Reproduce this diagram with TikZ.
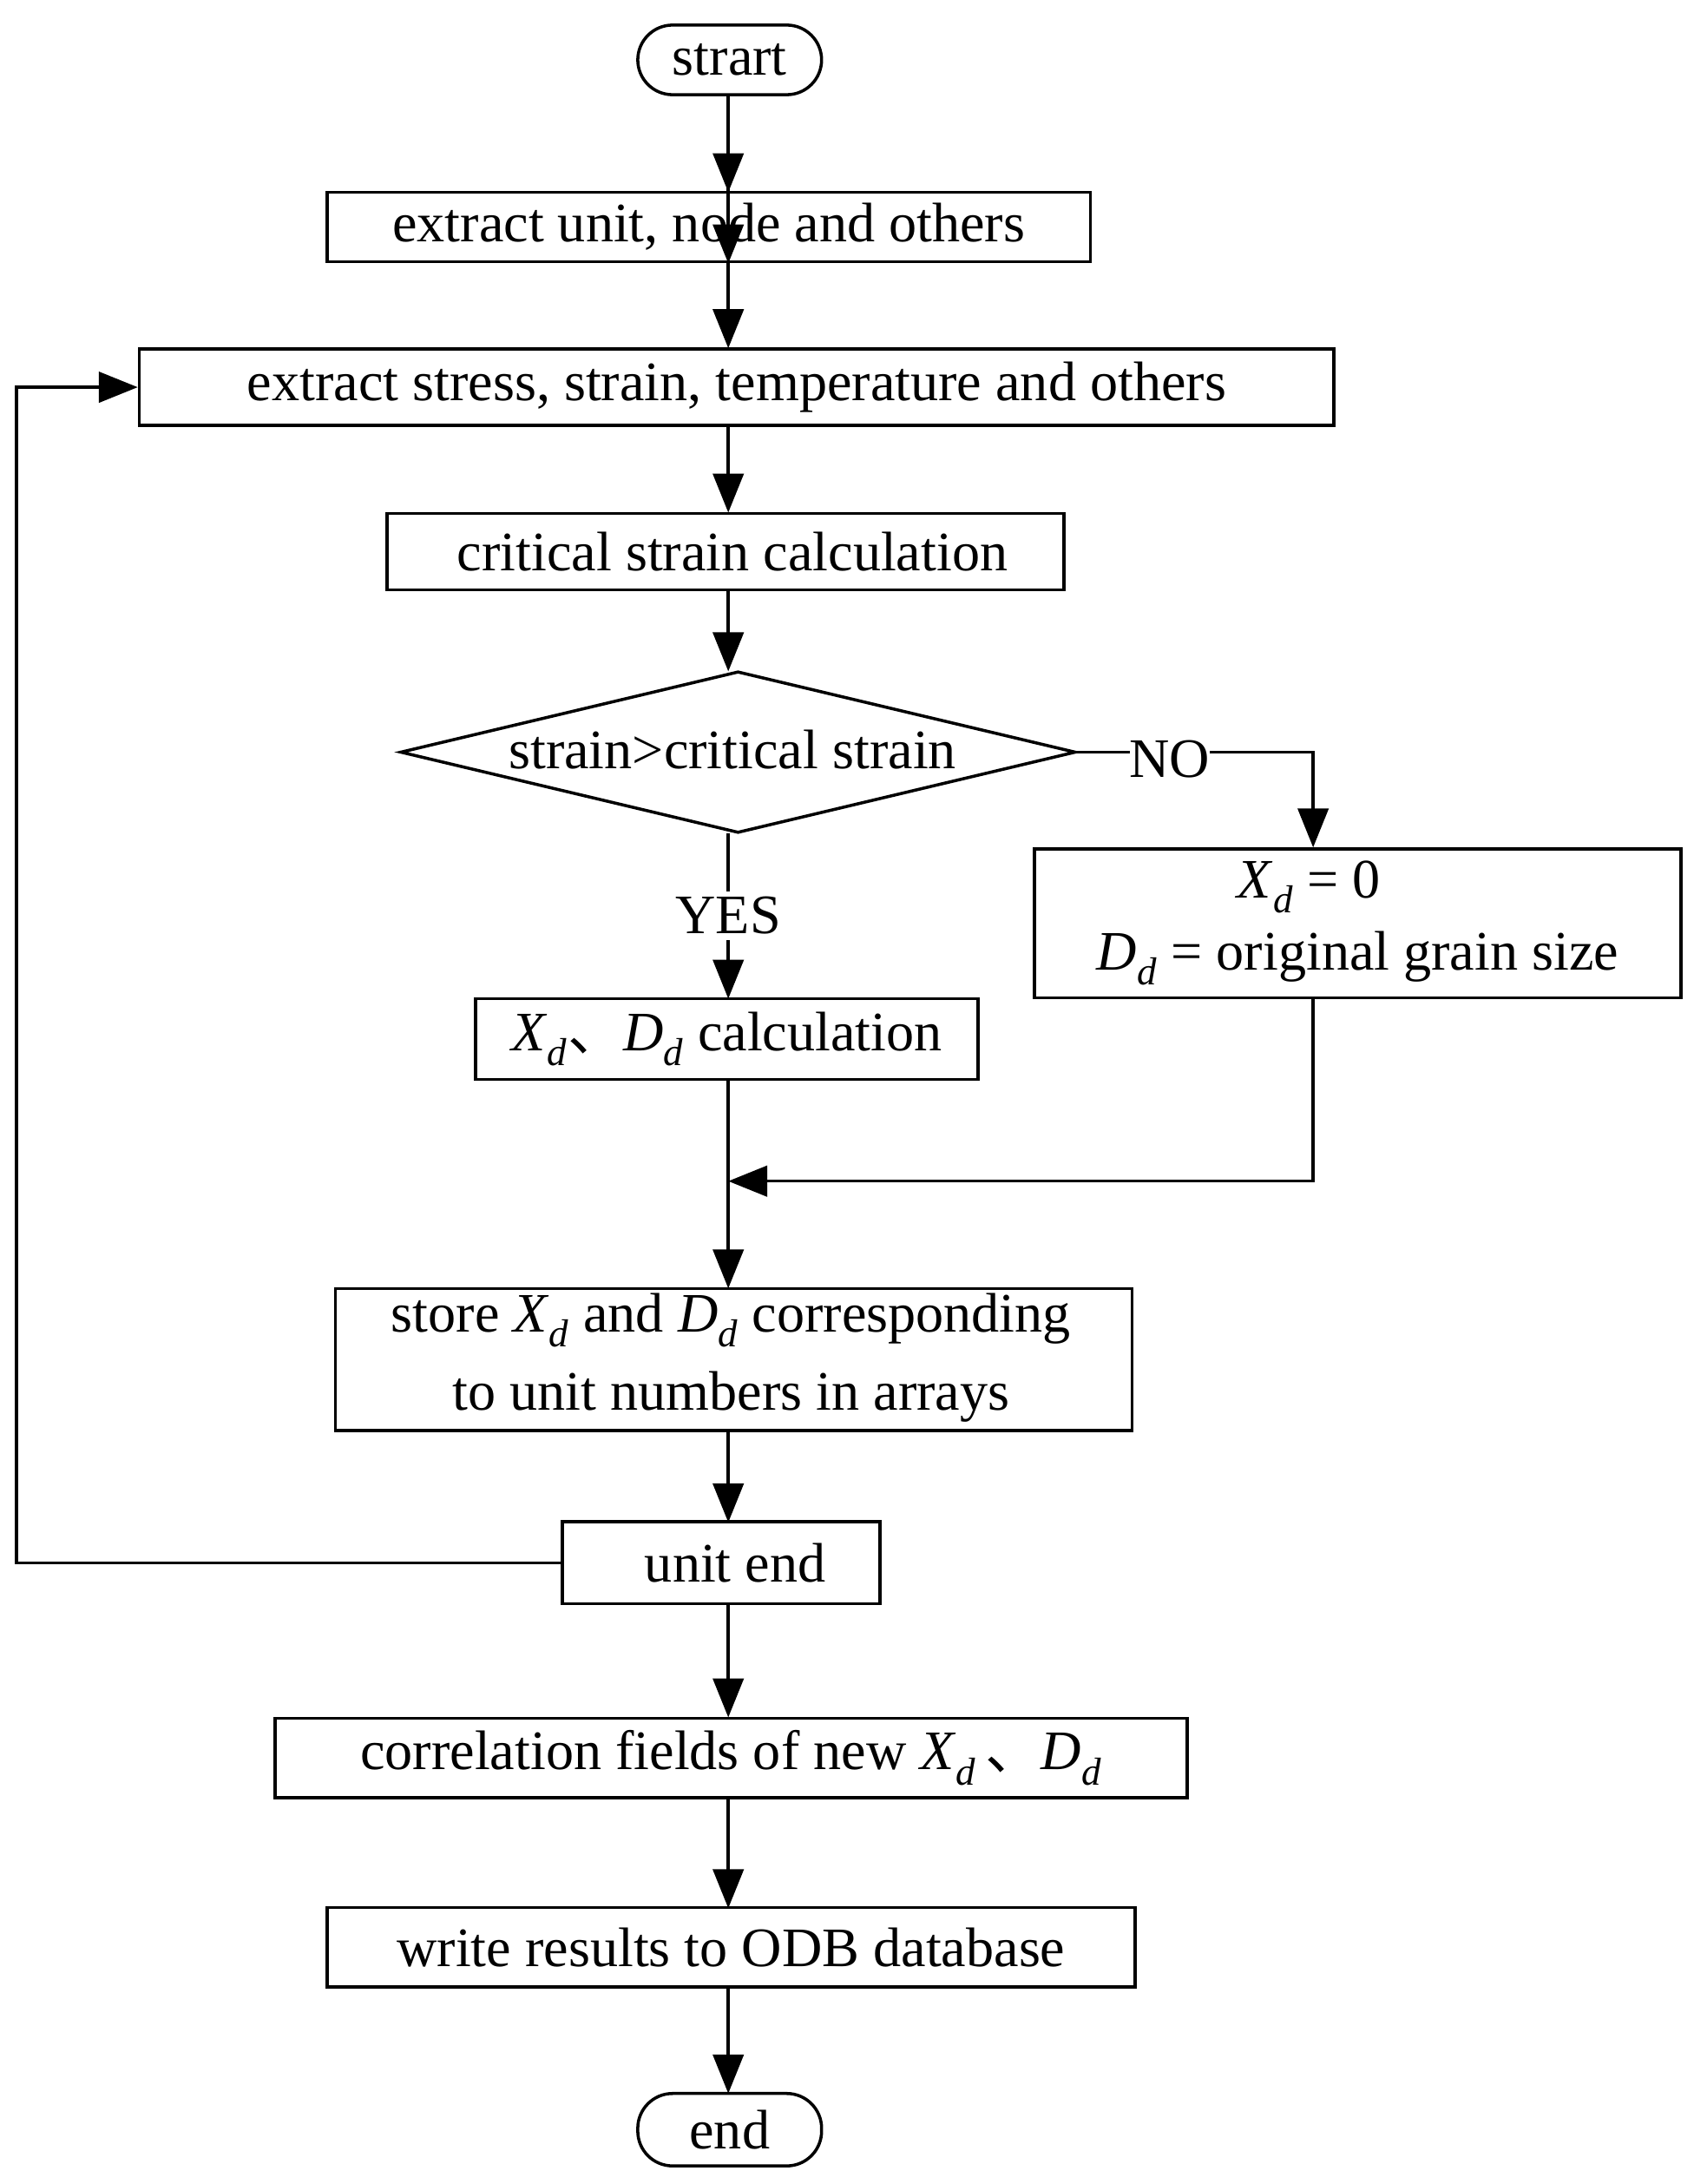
\documentclass[tikz,border=0pt]{standalone}
\usepackage{fontspec}
\setmainfont{Liberation Serif}
\newfontfamily\cjk{Noto Sans CJK SC}
\usetikzlibrary{arrows.meta,shapes.geometric}
\newcommand{\Xd}{\textit{X}\textsubscript{\textit{d}}}
\newcommand{\Dd}{\textit{D}\textsubscript{\textit{d}}}
\newcommand{\dun}{{\cjk 、}}
\begin{document}
\begin{tikzpicture}[x=1pt,y=-1pt,line width=2.2pt,
  every node/.style={font=\fontsize{40}{48}\selectfont,inner sep=0pt},
  box/.style={draw,rectangle},
  term/.style={draw,rounded rectangle},
  arr/.style={-{Triangle[length=28pt,width=22pt]}}]
\useasboundingbox (0,0) rectangle (1216,1568);
\node[draw,rounded corners=25pt,minimum width=132pt,minimum height=50pt] (s) at (524,43) {strart};
\node[box,minimum width=548pt,minimum height=50pt] (b1) at (509,163) {extract unit, node and others};
\node[box,minimum width=858pt,minimum height=55pt] (b2) at (529,278) {extract stress, strain, temperature and others};
\node[box,minimum width=486pt,minimum height=55pt] (b3) at (521,396) {\ critical strain calculation};
\node[draw,diamond,aspect=4.18,minimum width=485pt,minimum height=116pt] (d) at (530,540) {};
\node at (526,538) {strain>critical strain};
\node[box,minimum width=464pt,minimum height=107pt] (no) at (975,663) {};
\node at (940,637) {\Xd{} = 0};
\node at (975,688) {\Dd{} = original grain size};
\node[box,minimum width=361pt,minimum height=58pt] (x) at (522,746) {\Xd\dun\Dd{} calculation};
\node[box,minimum width=572pt,minimum height=102pt] (st) at (527,976) {};
\node at (525,948) {store \Xd{} and \Dd{} corresponding};
\node at (525,1003) {to unit numbers in arrays};
\node[box,minimum width=228pt,minimum height=59pt] (u) at (518,1122) {\ \ unit end};
\node[box,minimum width=655pt,minimum height=57pt] (c) at (525,1262) {correlation fields of new \Xd\,\dun\Dd};
\node[box,minimum width=580pt,minimum height=57pt] (w) at (525,1398) {write results to ODB database};
\node[draw,rounded corners=25pt,minimum width=132pt,minimum height=52pt] (e) at (524,1529) {end};
\coordinate (m) at (523,848);
\coordinate (noc) at (943,540);
\coordinate (l1) at (12,1122);
\coordinate (l2) at (12,278);
\draw[arr] (s.south -| 523,0) -- (b1.south -| 523,0) ;
\draw[arr] (523,68) -- (523,138);
\draw[arr] (523,188) -- (523,250);
\draw[arr] (523,305) -- (523,368);
\draw[arr] (523,423) -- (523,482);
\draw[arr] (523,598) -- node[fill=white,inner ysep=4pt]{YES} (523,717);
\draw[arr] (d.east) -- (noc) -- (no.north -| noc);
\node[fill=white] at (840,545) {NO};
\draw[arr] (523,775) -- (523,925);
\draw[arr] (no.south -| noc) -- (943,848) -- (m);
\draw[arr] (523,1027) -- (523,1093);
\draw[arr] (u.west) -- (l1) -- (l2) -- (b2.west);
\draw[arr] (523,1152) -- (523,1233);
\draw[arr] (523,1290) -- (523,1370);
\draw[arr] (523,1427) -- (523,1503);
\end{tikzpicture}
\end{document}
